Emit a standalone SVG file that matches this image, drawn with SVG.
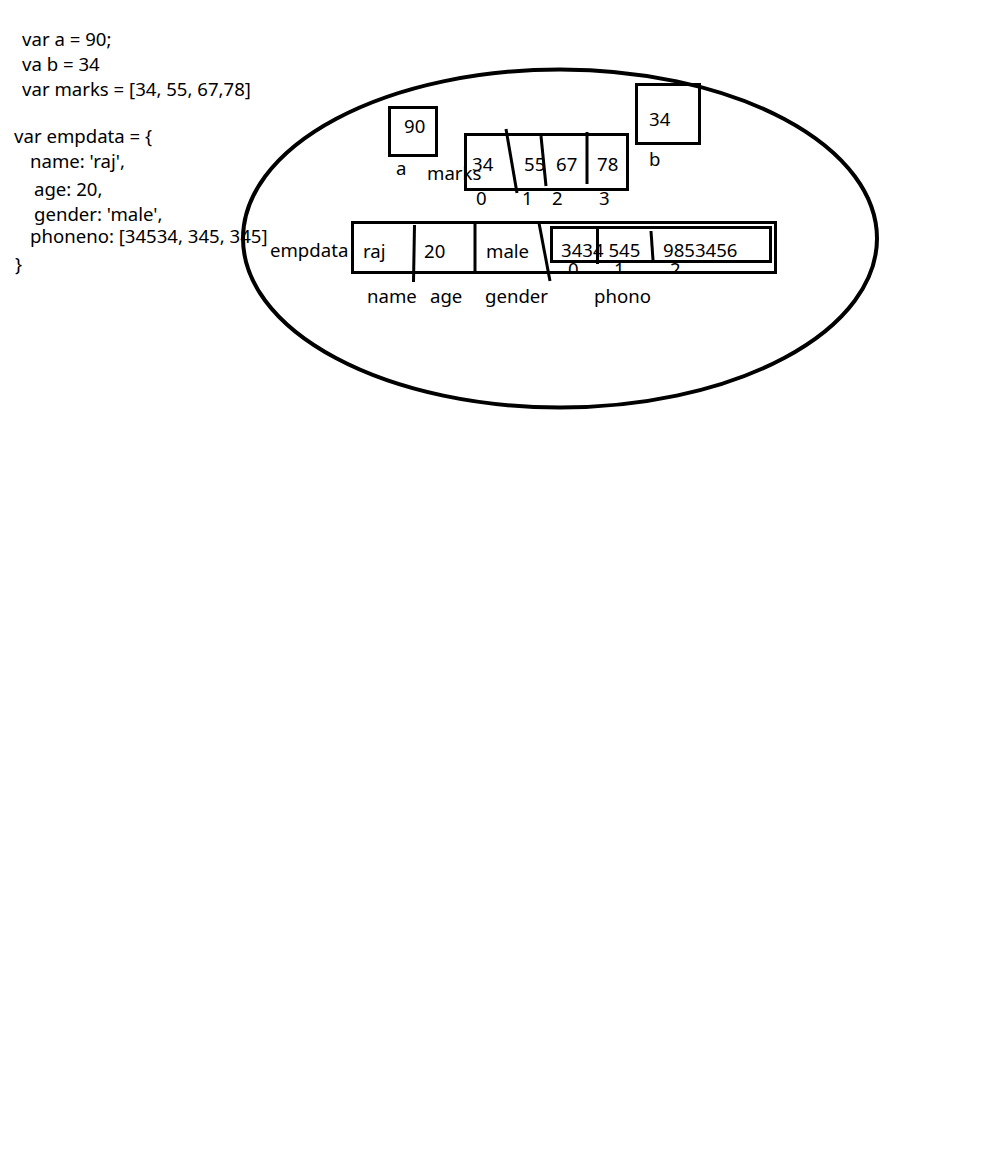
<svg xmlns="http://www.w3.org/2000/svg" width="984" height="1155" viewBox="0 0 984 1155">
<style>
text{font-family:"Noto Sans","Liberation Sans",sans-serif;font-size:18.6px;fill:#000}
.b{fill:none;stroke:#000;stroke-width:3}
.l{stroke:#000;stroke-width:3;fill:none}
</style>
<defs>
<clipPath id="cut"><rect x="540" y="200" width="240" height="71"/></clipPath>
</defs>
<rect width="984" height="1155" fill="#fff"/>
<g id="code">
<text x="22" y="46">var a = 90;</text>
<text x="22" y="71">va b = 34</text>
<text x="22" y="96">var marks = [34, 55, 67,78]</text>
<text x="14" y="143">var empdata = {</text>
<text x="30" y="168">name: 'raj',</text>
<text x="34" y="196">age: 20,</text>
<text x="34" y="221">gender: 'male',</text>
<text x="30" y="243">phoneno: [34534, 345, 345]</text>
<text x="15" y="271">}</text>
</g>
<g id="memory">
<ellipse cx="560" cy="238.5" rx="317" ry="169" fill="none" stroke="#000" stroke-width="4"/>
</g>
<g id="var-a">
<rect class="b" x="389.5" y="107.5" width="47" height="48"/>
<text x="404" y="133">90</text>
<text x="396" y="175">a</text>
</g>
<g id="var-b">
<rect class="b" x="636.5" y="84.5" width="63" height="59"/>
<text x="649" y="126">34</text>
<text x="649" y="166">b</text>
</g>
<g id="marks">
<rect class="b" x="465.5" y="134.5" width="162" height="55"/>
<text x="472" y="171">34</text>
<text x="524" y="171">55</text>
<text x="556" y="171">67</text>
<text x="597" y="171">78</text>
<text x="427" y="180">marks</text>
<text x="476" y="205">0</text>
<text x="522" y="205">1</text>
<text x="552" y="205">2</text>
<text x="599" y="205">3</text>
</g>
<g id="empdata">
<rect class="b" x="352.5" y="222.5" width="423" height="50"/>
<rect class="b" x="551.5" y="227.5" width="219" height="34"/>
<text x="270" y="257">empdata</text>
<text x="363" y="258">raj</text>
<text x="424" y="258">20</text>
<text x="486" y="258">male</text>
<text x="561" y="257">3434 545</text>
<text x="663" y="257">9853456</text>
<g clip-path="url(#cut)">
<text x="568" y="276">0</text>
<text x="614" y="276">1</text>
<text x="670" y="276">2</text>
</g>
<text x="367" y="303">name</text>
<text x="430" y="303">age</text>
<text x="485" y="303">gender</text>
<text x="594" y="303">phono</text>
</g>
<g id="connectors">
<line class="l" x1="506" y1="129" x2="517" y2="193"/>
<line class="l" x1="541" y1="136" x2="546" y2="186"/>
<line class="l" x1="587" y1="132" x2="587" y2="184"/>
<line class="l" x1="414.5" y1="225" x2="413.5" y2="282"/>
<line class="l" x1="475" y1="222" x2="475" y2="273"/>
<line class="l" x1="539" y1="223" x2="550" y2="281"/>
<line class="l" x1="597.5" y1="228" x2="597.5" y2="264"/>
<line class="l" x1="651" y1="231" x2="653" y2="260"/>
</g>
</svg>
